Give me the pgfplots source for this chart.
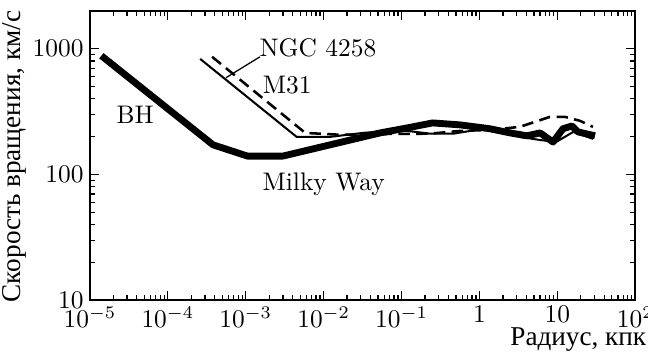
\documentclass[border=0pt]{standalone}
\usepackage{fontspec}
\usepackage{pgfplots}
\pgfplotsset{compat=1.18}
\newfontfamily\cyr[Scale=1.07]{Liberation Serif}
\begin{document}
\begin{tikzpicture}
\begin{axis}[
  name=ax,
  scale only axis,
  width=214.6pt, height=113.8pt,
  xmode=log, ymode=log,
  xmin=1e-5, xmax=100, ymin=10, ymax=2000,
  axis line style={line width=0.8pt},
  tick style={line width=0.5pt, black},
  major tick length=3.5pt, minor tick length=2pt,
  tick align=inside,
  xtick={1e-5,1e-4,1e-3,1e-2,1e-1,1,10,100},
  xticklabels={$10^{-5}$,$10^{-4}$,$10^{-3}$,$10^{-2}$,$10^{-1}$,$1$,$10$,$10^{2}$},
  ytick={10,100,1000},
  yticklabels={$10$,$100$,$1000$},
  xticklabel style={yshift=1pt},
  yticklabel style={xshift=1pt},
  clip=false,
]
% Milky Way (thick)
\addplot[black, line width=2.7pt, line join=round] coordinates {
 (1.4e-5,880) (3.8e-4,172) (1.05e-3,140) (3e-3,140) (0.053,214) (0.12,235)
 (0.25,257) (0.56,248) (1.36,231) (2.47,214) (4.07,203) (6.0,214) (8.8,181)
 (11.8,231) (15.4,243) (18.4,218) (30.4,203)};
% M31 (thin solid)
\addplot[black, line width=0.8pt] coordinates {
 (2.6e-4,830) (4.5e-3,199) (0.012,199) (0.032,214) (0.095,226) (0.23,211)
 (0.46,211) (1.36,235) (3.3,199) (6.0,188) (9.6,181) (16,218) (28.6,192)};
% NGC 4258 (dashed)
\addplot[black, line width=1pt, dash pattern=on 4.5pt off 2.5pt] coordinates {
 (3.7e-4,863) (5.8e-3,214) (0.016,207) (0.071,210) (0.23,211) (0.56,222)
 (1.36,226) (3.3,239) (8.0,287) (12.5,287) (19.5,267) (28.6,239)};
\node at (axis cs:8.45e-3,1020) {NGC 4258};
\node at (axis cs:3.4e-3,516) {M31};
\node at (axis cs:3.8e-5,298) {BH};
\node at (axis cs:0.01,84) {Milky Way};
\draw[line width=0.5pt] (axis cs:1.52e-3,863) -- (axis cs:5.57e-4,588);
\end{axis}
\node[rotate=90, anchor=north west, inner sep=0pt] at ([xshift=-34.8pt,yshift=-1pt]ax.south west) {\cyr Скорость вращения, км/с};
\node[anchor=base east, inner sep=0pt] at ([xshift=4.5pt,yshift=-18pt]ax.south east) {\cyr Радиус, кпк};
\pgfresetboundingbox
\path[use as bounding box] ([xshift=-35.4pt,yshift=-20.5pt]ax.south west) rectangle ([xshift=5pt,yshift=4.3pt]ax.north east);
\end{tikzpicture}
\end{document}
